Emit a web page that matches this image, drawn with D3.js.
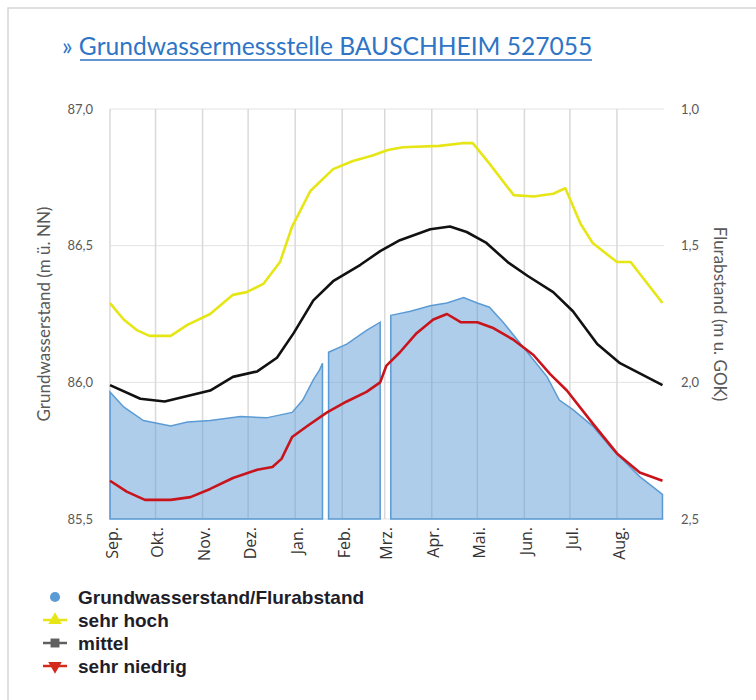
<!DOCTYPE html>
<html>
<head>
<meta charset="utf-8">
<script src="https://cdn.jsdelivr.net/npm/d3@7"></script>
<style>
  body { margin: 0; background: #fff; }
</style>
</head>
<body>
<div id="chart"></div>
<script>
// Hydrologisches Jahr Sep. - Aug.
const title = "» Grundwassermessstelle BAUSCHHEIM 527055";
const monthLabels = ["Sep.", "Okt.", "Nov.", "Dez.", "Jan.", "Feb.", "Mrz.", "Apr.", "Mai.", "Jun.", "Jul.", "Aug."];
const leftTicks = [85.5, 86.0, 86.5, 87.0];
const rightTicks = [1.0, 1.5, 2.0, 2.5];

// Grundwasserstand (null = Messlücke)
const standDates = ["2022-09-01", "2022-09-10", "2022-09-23", "2022-10-11", "2022-10-22", "2022-11-06", "2022-11-26",
  "2022-12-13", "2022-12-30", "2023-01-06", "2023-01-13", "2023-01-17", "2023-01-19", "2023-01-21",
  "2023-01-23", "2023-02-04", "2023-02-17", "2023-02-26", "2023-03-01",
  "2023-03-05", "2023-03-18", "2023-03-31", "2023-04-11", "2023-04-22", "2023-05-01", "2023-05-09",
  "2023-05-18", "2023-06-03", "2023-06-16", "2023-06-24", "2023-07-03", "2023-07-16", "2023-07-29",
  "2023-08-16", "2023-08-31"];
const standValues = [85.965, 85.91, 85.86, 85.84, 85.855, 85.86, 85.875,
  85.87, 85.89, 85.935, 86.01, 86.045, 86.07, null,
  86.11, 86.14, 86.19, 86.22, null,
  86.245, 86.26, 86.28, 86.29, 86.31, 86.29, 86.275,
  86.22, 86.11, 86.02, 85.935, 85.90, 85.84, 85.755,
  85.655, 85.59];

// sehr hoch
const hochDates = ["2022-09-01", "2022-09-10", "2022-09-19", "2022-09-27", "2022-10-11", "2022-10-22", "2022-11-06",
  "2022-11-21", "2022-11-30", "2022-12-11", "2022-12-22", "2022-12-30", "2023-01-11", "2023-01-26",
  "2023-02-08", "2023-02-21", "2023-03-03", "2023-03-13", "2023-04-06", "2023-04-21", "2023-04-28",
  "2023-05-09", "2023-05-25", "2023-06-07", "2023-06-20", "2023-06-28", "2023-07-08", "2023-07-16",
  "2023-08-01", "2023-08-10", "2023-08-31"];
const hochValues = [86.29, 86.23, 86.19, 86.17, 86.17, 86.21, 86.25,
  86.32, 86.33, 86.36, 86.44, 86.57, 86.70, 86.78,
  86.81, 86.83, 86.85, 86.86, 86.865, 86.875, 86.875,
  86.80, 86.685, 86.68, 86.69, 86.71, 86.58, 86.51,
  86.44, 86.44, 86.29];

// mittel
const mittelDates = ["2022-09-01", "2022-09-21", "2022-10-07", "2022-10-22", "2022-11-06", "2022-11-21", "2022-12-07",
  "2022-12-20", "2022-12-31", "2023-01-13", "2023-01-26", "2023-02-13", "2023-02-26", "2023-03-11",
  "2023-03-31", "2023-04-13", "2023-04-24", "2023-05-07", "2023-05-21", "2023-06-03", "2023-06-20",
  "2023-07-03", "2023-07-19", "2023-08-03", "2023-08-31"];
const mittelValues = [85.99, 85.94, 85.93, 85.95, 85.97, 86.02, 86.04,
  86.09, 86.18, 86.30, 86.37, 86.43, 86.48, 86.52,
  86.56, 86.57, 86.55, 86.51, 86.44, 86.39, 86.33,
  86.26, 86.14, 86.07, 85.99];

// sehr niedrig
const niedrigDates = ["2022-09-01", "2022-09-12", "2022-09-24", "2022-10-11", "2022-10-24", "2022-11-06", "2022-11-21",
  "2022-12-07", "2022-12-17", "2022-12-23", "2022-12-30", "2023-01-09", "2023-01-22", "2023-02-04",
  "2023-02-17", "2023-02-26", "2023-03-02", "2023-03-11", "2023-03-22", "2023-04-02", "2023-04-11",
  "2023-04-20", "2023-05-01", "2023-05-11", "2023-05-25", "2023-06-07", "2023-06-18", "2023-06-29",
  "2023-07-16", "2023-08-01", "2023-08-16", "2023-08-31"];
const niedrigValues = [85.64, 85.60, 85.57, 85.57, 85.58, 85.61, 85.65,
  85.68, 85.69, 85.72, 85.80, 85.84, 85.89, 85.93,
  85.965, 86.00, 86.06, 86.11, 86.18, 86.23, 86.25,
  86.22, 86.22, 86.20, 86.155, 86.10, 86.03, 85.97,
  85.85, 85.74, 85.67, 85.64];

const legendItems = [
  { label: "Grundwasserstand/Flurabstand", color: "#5b9bd5", symbol: "circle" },
  { label: "sehr hoch", color: "#e6e617", symbol: "up" },
  { label: "mittel", color: "#606060", symbol: "square" },
  { label: "sehr niedrig", color: "#d42a1e", symbol: "down" }
];

const width = 756, height = 700;
const margin = { top: 109, right: 92, bottom: 181, left: 110 };
const parse = d3.timeParse("%Y-%m-%d");
const fmt = d3.format(".1f");
const comma = v => fmt(v).replace(".", ",");

const zip = (dates, values) => dates.map((d, i) => ({ date: parse(d), value: values[i] }));
const stand = zip(standDates, standValues);
const hoch = zip(hochDates, hochValues);
const mittel = zip(mittelDates, mittelValues);
const niedrig = zip(niedrigDates, niedrigValues);

const svg = d3.select("#chart").append("svg")
  .attr("width", width)
  .attr("height", height)
  .style("font-family", "Lato, 'Open Sans', sans-serif");

// Rahmen
svg.append("path")
  .attr("d", `M8,${height} V8 H${width}`)
  .attr("fill", "none")
  .attr("stroke", "#d6d6d6")
  .attr("stroke-width", 1.5);

// Titel
svg.append("text")
  .attr("x", 62)
  .attr("y", 55)
  .attr("fill", "#2e75c6")
  .style("font-size", "24.6px")
  .text(title);
svg.append("line")
  .attr("x1", 80).attr("x2", 592)
  .attr("y1", 60).attr("y2", 60)
  .attr("stroke", "#2e75c6")
  .attr("stroke-width", 1.3);

const x = d3.scaleTime()
  .domain([parse("2022-09-01"), parse("2023-09-01")])
  .range([margin.left, width - margin.right]);
const y = d3.scaleLinear()
  .domain([85.5, 87.0])
  .range([height - margin.bottom, margin.top]);
// Flurabstand: GOK bei 88,0 m ü. NN
const y2 = d3.scaleLinear()
  .domain([1.0, 2.5])
  .range([margin.top, height - margin.bottom]);

const plotRight = x.range()[1];
const monthStarts = x.ticks(d3.timeMonth.every(1)).filter(d => d < x.domain()[1]);

// Gitter
svg.append("g")
  .selectAll("line")
  .data(leftTicks)
  .join("line")
  .attr("x1", margin.left).attr("x2", plotRight)
  .attr("y1", d => y(d)).attr("y2", d => y(d))
  .attr("stroke", "#e3e3e3")
  .attr("stroke-width", 1);

svg.append("g")
  .selectAll("line")
  .data(monthStarts)
  .join("line")
  .attr("x1", d => x(d)).attr("x2", d => x(d))
  .attr("y1", y(87.0)).attr("y2", y(85.5))
  .attr("stroke", "#d9d9d9")
  .attr("stroke-width", 1.5);

// Grundwasserstand als Fläche
const area = d3.area()
  .defined(d => d.value != null)
  .x(d => x(d.date))
  .y0(y(85.5))
  .y1(d => y(d.value));

svg.append("path")
  .datum(stand)
  .attr("d", area)
  .attr("fill", "#5b9bd5")
  .attr("fill-opacity", 0.5)
  .attr("stroke", "#5b9bd5")
  .attr("stroke-width", 1.5);

const line = d3.line()
  .x(d => x(d.date))
  .y(d => y(d.value));

[[hoch, "#e6e617"], [mittel, "#111"], [niedrig, "#c8141a"]].forEach(([data, color]) => {
  svg.append("path")
    .datum(data)
    .attr("d", line)
    .attr("fill", "none")
    .attr("stroke", color)
    .attr("stroke-width", 2.6)
    .attr("stroke-linejoin", "round");
});

// Achsenbeschriftung
svg.append("g")
  .selectAll("text")
  .data(leftTicks)
  .join("text")
  .attr("x", 93)
  .attr("y", d => y(d))
  .attr("dy", "0.35em")
  .attr("text-anchor", "end")
  .attr("fill", "#595959")
  .style("font-size", "13px")
  .text(comma);

svg.append("g")
  .selectAll("text")
  .data(rightTicks)
  .join("text")
  .attr("x", 681)
  .attr("y", d => y2(d))
  .attr("dy", "0.35em")
  .attr("fill", "#595959")
  .style("font-size", "13px")
  .text(comma);

svg.append("g")
  .selectAll("text")
  .data(monthStarts)
  .join("text")
  .attr("transform", d => `translate(${x(d) + 2},527) rotate(-90)`)
  .attr("dy", "0.35em")
  .attr("text-anchor", "end")
  .attr("fill", "#333")
  .style("font-family", "'Open Sans', sans-serif")
  .style("font-size", "16px")
  .text((d, i) => monthLabels[i]);

svg.append("text")
  .attr("transform", `translate(44,${(y(87) + y(85.5)) / 2}) rotate(-90)`)
  .attr("dy", "0.35em")
  .attr("text-anchor", "middle")
  .attr("fill", "#595959")
  .style("font-size", "17px")
  .text("Grundwasserstand (m ü. NN)");

svg.append("text")
  .attr("transform", `translate(720,${(y(87) + y(85.5)) / 2}) rotate(90)`)
  .attr("dy", "0.35em")
  .attr("text-anchor", "middle")
  .attr("fill", "#595959")
  .style("font-size", "17px")
  .text("Flurabstand (m u. GOK)");

// Legende
const legend = svg.append("g")
  .selectAll("g")
  .data(legendItems)
  .join("g")
  .attr("transform", (d, i) => `translate(55,${597 + i * 23})`);

legend.filter(d => d.symbol !== "circle")
  .append("line")
  .attr("x1", -12).attr("x2", 12)
  .attr("stroke", d => d.color)
  .attr("stroke-width", 2.5);

legend.append("path")
  .attr("d", d => {
    if (d.symbol === "circle") return d3.symbol(d3.symbolCircle, 80)();
    if (d.symbol === "square") return d3.symbol(d3.symbolSquare, 80)();
    return d3.symbol(d3.symbolTriangle, 80)();
  })
  .attr("transform", d => d.symbol === "down" ? "rotate(180)" : null)
  .attr("fill", d => d.color);

legend.append("text")
  .attr("x", 23)
  .attr("dy", "0.35em")
  .attr("fill", "#1e1e2a")
  .style("font-family", "'Liberation Sans', Arial, sans-serif")
  .style("font-weight", "bold")
  .style("font-size", "19px")
  .text(d => d.label);
</script>
</body>
</html>
